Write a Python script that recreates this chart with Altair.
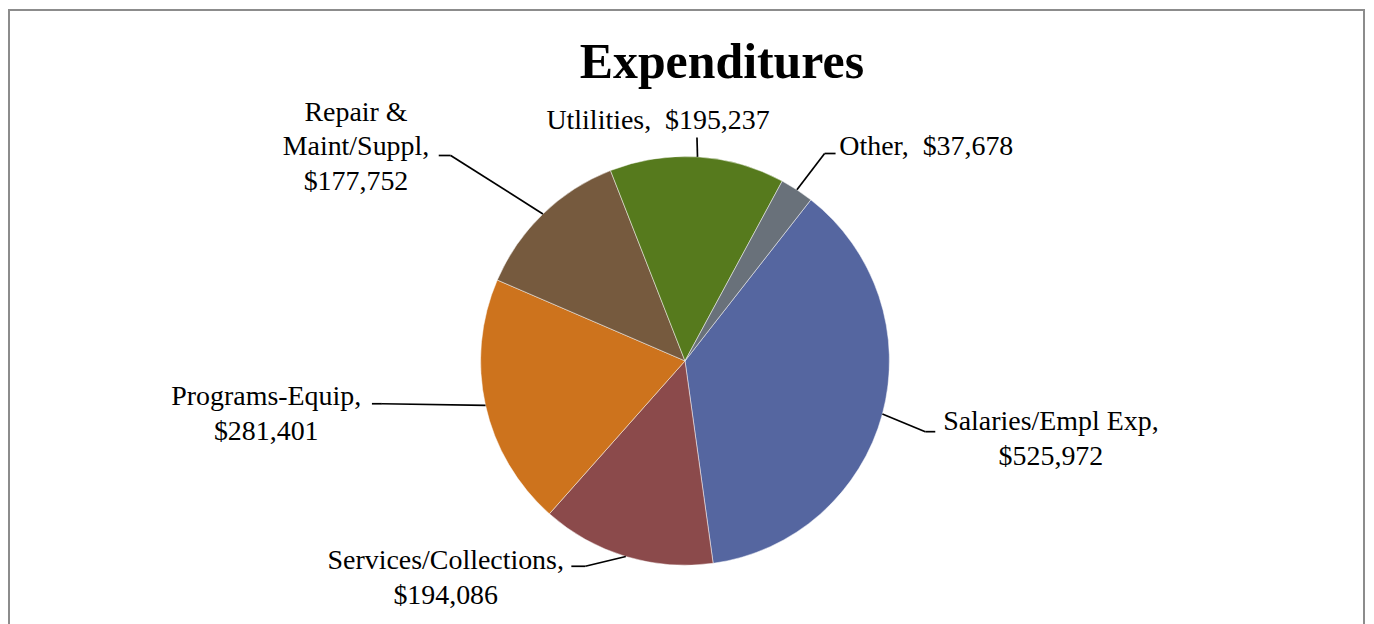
import math
import pandas as pd
import altair as alt

# ---- data ----
categories = ["Salaries/Empl Exp", "Services/Collections", "Programs-Equip",
              "Repair & Maint/Suppl", "Utlilities", "Other"]
values = [525972, 194086, 281401, 177752, 195237, 37678]
label_heads = ["Salaries/Empl Exp,\n", "Services/Collections,\n", "Programs-Equip,\n",
               "Repair &\nMaint/Suppl,\n", "Utlilities,\u00a0 ", "Other,\u00a0 "]
colors = ["#5566A0", "#8B4A4B", "#CD731D", "#765A3E", "#567A1D", "#69717A"]

# ---- layout (view pixel coordinates) ----
W, H = 1362, 608
CX, CY, R = 679, 353, 205
START = math.radians(38)
label_x = [1046, 439, 259, 349, 652, 921]
label_y = [422, 562, 397, 112, 120, 147]
elbow_x = [920, 579, 375, 444, 691, 819]
elbow_y = [424, 559, 396, 147, 129, 145]
end_x = [930, 565, 365, 432, 691, 830]
end_y = [424, 559, 396, 147, 129, 145]

df = pd.DataFrame({
    "category": categories,
    "value": values,
    "order": list(range(len(categories))),
    "label": [h + "${:,}".format(v) for h, v in zip(label_heads, values)],
    "lx": label_x, "ly": label_y,
    "bx": elbow_x, "by": elbow_y,
    "ex": end_x, "ey": end_y,
})

xs = alt.Scale(domain=[0, W], range=[0, W], nice=False, zero=False)
ys = alt.Scale(domain=[0, H], range=[0, H], nice=False, zero=False)

base = alt.Chart(df)

pie = base.mark_arc(radius=R, stroke="white", strokeWidth=0.8, strokeOpacity=0.6).encode(
    theta=alt.Theta("value:Q", stack=True,
                    scale=alt.Scale(range=[START, START + 2 * math.pi])),
    order=alt.Order("order:Q"),
    color=alt.Color("category:N", scale=alt.Scale(domain=categories, range=colors), legend=None),
    x=alt.value(CX),
    y=alt.value(CY),
)

geo = base.transform_joinaggregate(
    total="sum(value)"
).transform_window(
    cum="sum(value)", sort=[alt.SortField("order")], frame=[None, 0]
).transform_calculate(
    mid=f"{START} + 2*PI*(datum.cum - datum.value/2)/datum.total"
).transform_calculate(
    x0=f"{CX} + {R}*sin(datum.mid)",
    y0=f"{CY} - {R}*cos(datum.mid)",
)

lead1 = geo.mark_rule(color="black", strokeWidth=1.7).encode(
    x=alt.X("x0:Q", scale=xs, axis=None),
    y=alt.Y("y0:Q", scale=ys, axis=None),
    x2="bx:Q",
    y2="by:Q",
)

lead2 = base.mark_rule(color="black", strokeWidth=1.7).encode(
    x=alt.X("bx:Q", scale=xs, axis=None),
    y=alt.Y("by:Q", scale=ys, axis=None),
    x2="ex:Q",
    y2="ey:Q",
)

labels = base.mark_text(
    align="center", baseline="alphabetic", font="Liberation Serif",
    fontSize=28, lineHeight=35, lineBreak="\n", color="black",
).encode(
    x=alt.X("lx:Q", scale=xs, axis=None),
    y=alt.Y("ly:Q", scale=ys, axis=None),
    text="label:N",
)

one = alt.Chart(pd.DataFrame({"a": [0]}))
title = one.mark_text(
    text="Expenditures", font="Liberation Serif", fontSize=50, fontWeight="bold",
    align="center", baseline="alphabetic", color="black",
).encode(x=alt.value(716), y=alt.value(69))

border = one.mark_rect(filled=False, stroke="#8c8c8c", strokeWidth=2, fill=None).encode(
    x=alt.value(1), y=alt.value(1), x2=alt.value(1360), y2=alt.value(H + 20)
)

chart = alt.layer(border, pie, lead1, lead2, labels, title).properties(
    width=W, height=H, padding=0, background="white"
).configure_view(stroke=None)

chart.save("out.html", embed_options={"renderer": "svg", "actions": False})
